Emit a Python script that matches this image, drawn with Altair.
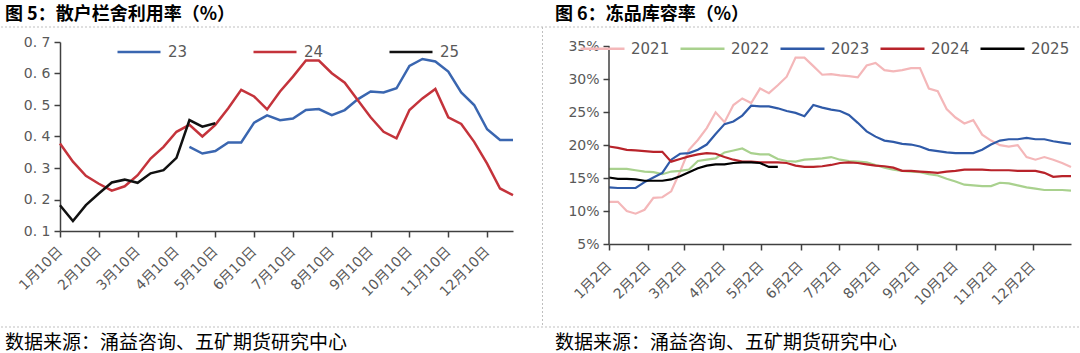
import json
import altair as alt
import pandas as pd

# ---------------- data ----------------
left_tick_labels = ["1月10日", "2月10日", "3月10日", "4月10日", "5月10日", "6月10日",
                    "7月10日", "8月10日", "9月10日", "10月10日", "11月10日", "12月10日"]
left_names = ["23", "24", "25"]
left_23 = [None] * 10 + [0.367, 0.346, 0.354, 0.381, 0.381, 0.444, 0.467, 0.452, 0.457,
                         0.484, 0.487, 0.468, 0.484, 0.518, 0.543, 0.540, 0.553, 0.624,
                         0.646, 0.638, 0.606, 0.540, 0.500, 0.423, 0.389, 0.389]
left_24 = [0.378, 0.320, 0.275, 0.250, 0.228, 0.242, 0.277, 0.330, 0.367, 0.415, 0.437,
           0.400, 0.437, 0.490, 0.548, 0.527, 0.486, 0.543, 0.590, 0.641, 0.641, 0.601,
           0.571, 0.516, 0.461, 0.415, 0.394, 0.484, 0.521, 0.551, 0.461, 0.440, 0.383,
           0.314, 0.235, 0.214]
left_25 = [0.182, 0.132, 0.182, 0.219, 0.254, 0.263, 0.253, 0.283, 0.293, 0.332, 0.452,
           0.431, 0.442] + [None] * 23
left_colors = ["#3A66B0", "#C4333B", "#111111"]

right_tick_labels = ["1月2日", "2月2日", "3月2日", "4月2日", "5月2日", "6月2日",
                     "7月2日", "8月2日", "9月2日", "10月2日", "11月2日", "12月2日"]
right_names = ["2021", "2022", "2023", "2024", "2025"]
right_2021 = [11.4, 11.4, 10.0, 9.6, 10.2, 12.0, 12.1, 13.0, 16.0, 19.3, 20.8, 22.6, 25.0,
              23.5, 26.1, 27.1, 26.4, 28.6, 27.9, 29.1, 30.4, 33.3, 33.3, 32.0, 30.7, 30.8,
              30.6, 30.5, 30.3, 32.1, 32.5, 31.4, 31.2, 31.4, 31.7, 31.7, 28.6, 28.2, 25.5,
              24.2, 23.3, 23.8, 21.6, 20.7, 20.0, 19.8, 20.0, 18.2, 17.8, 18.2, 17.8, 17.3,
              16.7]
right_2022 = [16.4, 16.4, 16.4, 16.2, 16.0, 15.9, 15.6, 16.0, 16.1, 16.3, 17.6, 17.8, 18.0,
              18.9, 19.2, 19.5, 18.8, 18.6, 18.6, 17.9, 17.6, 17.5, 17.8, 17.9, 18.0, 18.2,
              17.8, 17.6, 17.5, 17.4, 17.0, 16.6, 16.3, 16.1, 16.0, 15.9, 15.6, 15.4, 14.9,
              14.5, 14.0, 13.9, 13.8, 13.8, 14.3, 14.2, 13.9, 13.6, 13.4, 13.2, 13.2, 13.2,
              13.1]
right_2023 = [13.6, 13.5, 13.5, 13.5, 14.4, 15.1, 15.8, 17.8, 18.7, 18.8, 19.3, 20.1, 21.7,
              23.2, 23.6, 24.5, 26.0, 25.9, 25.9, 25.6, 25.2, 24.9, 24.4, 26.1, 25.7, 25.4,
              25.2, 24.6, 23.4, 22.1, 21.3, 20.7, 20.5, 20.2, 20.1, 19.8, 19.3, 19.1, 18.9,
              18.8, 18.8, 18.8, 19.3, 20.1, 20.7, 20.9, 20.9, 21.1, 20.9, 20.9, 20.6, 20.4,
              20.2]
right_2024 = [19.8, 19.6, 19.3, 19.2, 19.1, 19.0, 19.0, 17.5, 17.9, 18.3, 18.6, 18.8, 18.7,
              18.2, 17.8, 17.5, 17.5, 17.4, 17.4, 17.4, 17.3, 16.9, 16.7, 16.7, 16.8, 17.0,
              17.3, 17.4, 17.3, 17.1, 16.9, 16.8, 16.6, 16.1, 16.1, 16.0, 15.9, 15.8, 16.0,
              16.1, 16.3, 16.3, 16.3, 16.2, 16.2, 16.2, 16.1, 16.1, 16.1, 15.8, 15.2, 15.3,
              15.3]
right_2025 = [15.1, 14.9, 14.9, 14.8, 14.6, 14.6, 14.6, 14.8, 15.3, 15.9, 16.5, 16.9, 17.1,
              17.1, 17.3, 17.4, 17.4, 17.3, 16.7, 16.7]
right_colors = ["#F4B7B9", "#A9D18E", "#2F5AA8", "#B8232A", "#000000"]

title_left = "图 5：散户栏舍利用率（%）"
title_right = "图 6：冻品库容率（%）"
source_text = "数据来源：涌益咨询、五矿期货研究中心"

# ---------------- tables ----------------
left_rows = []
for name, vals in zip(left_names, [left_23, left_24, left_25]):
    for i, v in enumerate(vals):
        if v is not None:
            left_rows.append({"i": i, "v": v, "s": name})
left_df = pd.DataFrame(left_rows)

right_rows = []
for name, vals in zip(right_names, [right_2021, right_2022, right_2023, right_2024, right_2025]):
    for w, v in enumerate(vals):
        right_rows.append({"d": 7 * w, "v": v, "s": name})
right_df = pd.DataFrame(right_rows)

right_tick_days = [(pd.Timestamp(2021, m, 2) - pd.Timestamp(2021, 1, 2)).days for m in range(1, 13)]

# ---------------- style ----------------
NUM_FONT = "DejaVu Sans, Noto Sans CJK SC"
CJK_FONT = "Noto Sans CJK SC"
LABEL_GRAY = "#595959"
AXIS_COLOR = "#404040"

L_W, L_H = 453, 189
R_W, R_H = 462, 202
R_PX_PER = 197.6 / 30.0
R_TOP = 5 + R_H / R_PX_PER

one = pd.DataFrame({"a": [0]})


def axis_common(**kw):
    base = dict(title=None, grid=False, domainColor=AXIS_COLOR, domainWidth=1.5,
                tickColor=AXIS_COLOR, tickWidth=1.5, tickSize=6, labelOverlap=False,
                labelColor=LABEL_GRAY, labelFont=NUM_FONT)
    base.update(kw)
    return alt.Axis(**base)


# ---------------- left panel ----------------
left_expr = json.dumps(left_tick_labels, ensure_ascii=False) + "[round(datum.value/3)]"
left_lines = alt.Chart(left_df).mark_line(strokeWidth=2.5).encode(
    x=alt.X("i:Q", scale=alt.Scale(domain=[0, 35], nice=False, zero=False),
            axis=axis_common(values=list(range(0, 36, 3)), labelExpr=left_expr,
                             labelAngle=-45, labelAlign="right", labelBaseline="middle",
                             labelFontSize=14, labelPadding=12)),
    y=alt.Y("v:Q", scale=alt.Scale(domain=[0.1, 0.7], nice=False, zero=False),
            axis=axis_common(values=[0.1, 0.2, 0.3, 0.4, 0.5, 0.6, 0.7],
                             labelExpr="replace(format(datum.value, '.1f'), '.', '. ')",
                             labelFontSize=14, labelPadding=4)),
    color=alt.Color("s:N", scale=alt.Scale(domain=left_names, range=left_colors),
                    legend=alt.Legend(orient="none", legendX=56, legendY=-13,
                                      direction="horizontal", title=None,
                                      symbolType="stroke", symbolSize=43 * 43,
                                      symbolStrokeWidth=2.5, labelFont="DejaVu Sans",
                                      labelFontSize=15, labelColor=LABEL_GRAY,
                                      labelOffset=6, columnPadding=60, padding=0)),
)

frame = alt.Chart(one).mark_rule(opacity=0).encode(
    x=alt.value(-60), x2=alt.value(1020), y=alt.value(-42), y2=alt.value(311))
dash_top = alt.Chart(one).mark_rule(color="#BFBFBF", strokeWidth=1, strokeDash=[2, 2]).encode(
    x=alt.value(-59), x2=alt.value(1019), y=alt.value(-15))
dash_bot = alt.Chart(one).mark_rule(color="#BFBFBF", strokeWidth=1, strokeDash=[2, 2]).encode(
    x=alt.value(-59), x2=alt.value(1019), y=alt.value(285))
dash_mid = alt.Chart(one).mark_rule(color="#BFBFBF", strokeWidth=1, strokeDash=[2, 2]).encode(
    x=alt.value(482.5), y=alt.value(-15), y2=alt.value(285))

texts = pd.DataFrame({
    "t": [title_left, title_right, source_text, source_text],
    "px": [-55, 495, -55, 495],
    "py": [-22, -22, 307, 307],
})
title_marks = alt.Chart(texts.iloc[:2]).mark_text(
    align="left", baseline="alphabetic", font=CJK_FONT, fontSize=18, fontWeight="bold",
    color="#000000").encode(text="t:N", x=alt.X("px:Q", scale=None), y=alt.Y("py:Q", scale=None))
source_marks = alt.Chart(texts.iloc[2:]).mark_text(
    align="left", baseline="alphabetic", font=CJK_FONT, fontSize=19,
    color="#000000").encode(text="t:N", x=alt.X("px:Q", scale=None), y=alt.Y("py:Q", scale=None))

left_chart = alt.layer(left_lines, frame, dash_top, dash_bot, dash_mid).properties(
    width=L_W, height=L_H)

# ---------------- right panel ----------------
right_expr = json.dumps(right_tick_labels, ensure_ascii=False) + \
    "[indexof(" + json.dumps(right_tick_days) + ", datum.value)]"
right_lines = alt.Chart(right_df).mark_line(strokeWidth=2.2).encode(
    x=alt.X("d:Q", scale=alt.Scale(domain=[0, 364], nice=False, zero=False),
            axis=axis_common(values=right_tick_days, labelExpr=right_expr,
                             labelAngle=-45, labelAlign="right", labelBaseline="middle",
                             labelFontSize=14, labelPadding=14)),
    y=alt.Y("v:Q", scale=alt.Scale(domain=[5, R_TOP], nice=False, zero=False),
            axis=axis_common(values=[5, 10, 15, 20, 25, 30, 35],
                             labelExpr="datum.value + '%'", domain=False,
                             labelFontSize=14, labelPadding=4)),
    color=alt.Color("s:N", scale=alt.Scale(domain=right_names, range=right_colors),
                    legend=alt.Legend(orient="none", legendX=-30, legendY=-17,
                                      direction="horizontal", title=None,
                                      symbolType="stroke", symbolSize=44 * 44,
                                      symbolStrokeWidth=2.5, labelFont="DejaVu Sans",
                                      labelFontSize=15, labelColor=LABEL_GRAY,
                                      labelOffset=5, columnPadding=5, padding=0)),
)
# y-axis line spanning 5%..35% only (the scale reaches slightly above 35%)
right_yline = alt.Chart(one).mark_rule(color=AXIS_COLOR, strokeWidth=1.5).encode(
    x=alt.value(0), y=alt.value(R_H - 30 * R_PX_PER), y2=alt.value(R_H))

right_chart = alt.layer(right_lines, right_yline).properties(width=R_W, height=R_H)

left_full = alt.layer(left_chart, title_marks, source_marks)

chart = alt.hconcat(left_full, right_chart, spacing=96, bounds="flush").resolve_scale(
    color="independent", x="independent", y="independent"
).resolve_legend(color="independent").properties(padding=0).configure_view(stroke=None)

chart.save("out.html", embed_options={"renderer": "svg", "actions": False})
